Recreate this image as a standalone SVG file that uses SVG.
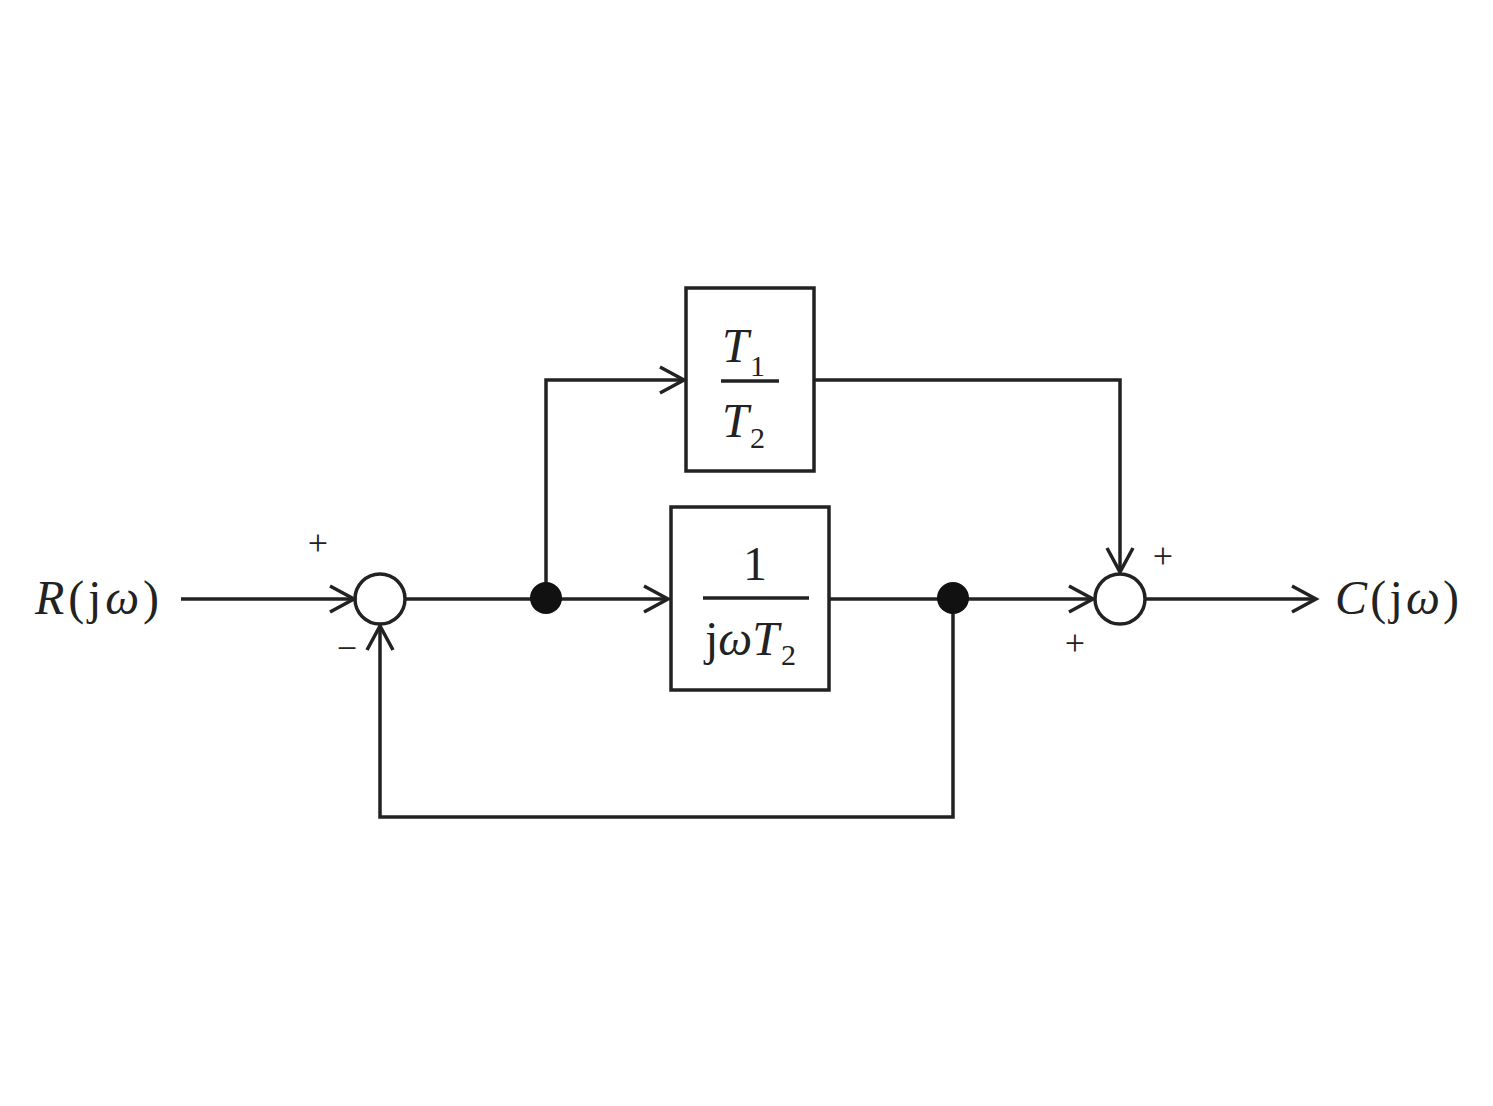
<svg xmlns="http://www.w3.org/2000/svg" width="1493" height="1106" viewBox="0 0 1493 1106">
<style>
.l{fill:none;stroke:#222;stroke-width:3.5}
.t{font-family:"Liberation Serif",serif;fill:#222}
.i{font-style:italic}
</style>
<defs>
<marker id="a" markerWidth="30" markerHeight="30" refX="26" refY="15" markerUnits="userSpaceOnUse" orient="auto">
<polyline points="2,2 26,15 2,28" fill="none" stroke="#222" stroke-width="3.5"/>
</marker>
</defs>
<rect width="1493" height="1106" fill="#fff"/>
<g id="connectors" class="l">
<line x1="181" y1="599" x2="354" y2="599" marker-end="url(#a)"/>
<line x1="405" y1="599" x2="668" y2="599" marker-end="url(#a)"/>
<polyline points="546,598 546,380 684,380" marker-end="url(#a)"/>
<line x1="829" y1="599" x2="1093" y2="599" marker-end="url(#a)"/>
<polyline points="814,380 1120,380 1120,572" marker-end="url(#a)"/>
<polyline points="953,598 953,817 380,817 380,626" marker-end="url(#a)"/>
<line x1="1145" y1="599" x2="1316" y2="599" marker-end="url(#a)"/>
</g>
<g id="sum1"><circle cx="380" cy="599" r="25" class="l" fill="#fff"/>
<text x="318" y="555" class="t" font-size="36" text-anchor="middle">+</text>
<text x="347" y="660" class="t" font-size="36" text-anchor="middle">−</text></g>
<g id="dot1"><circle cx="546" cy="598" r="16" fill="#111"/></g>
<g id="dot2"><circle cx="953" cy="598" r="16" fill="#111"/></g>
<g id="sum2"><circle cx="1120" cy="599" r="25" class="l" fill="#fff"/>
<text x="1163" y="568" class="t" font-size="36" text-anchor="middle">+</text>
<text x="1075" y="655" class="t" font-size="36" text-anchor="middle">+</text></g>
<g id="block1"><rect x="686" y="288" width="128" height="183" class="l" fill="#fff"/>
<text x="722" y="362" class="t i" font-size="48">T</text><text x="750" y="376" class="t" font-size="30">1</text>
<line x1="721" y1="381" x2="779" y2="381" class="l" stroke-width="2.5"/>
<text x="722" y="437" class="t i" font-size="48">T</text><text x="750" y="448" class="t" font-size="30">2</text></g>
<g id="block2"><rect x="671" y="507" width="158" height="183" class="l" stroke-width="5" fill="#fff"/>
<text x="755" y="580" class="t" font-size="48" text-anchor="middle">1</text>
<line x1="703" y1="598" x2="809" y2="598" class="l" stroke-width="2.5"/>
<text x="705" y="655" class="t" font-size="48">j<tspan class="i">ωT</tspan></text><text x="781" y="665" class="t" font-size="30">2</text></g>
<text x="35" y="614" class="t" font-size="48" textLength="124"><tspan class="i">R</tspan>(j<tspan class="i">ω</tspan>)</text>
<text x="1335" y="614" class="t" font-size="48" textLength="124"><tspan class="i">C</tspan>(j<tspan class="i">ω</tspan>)</text>
</svg>
